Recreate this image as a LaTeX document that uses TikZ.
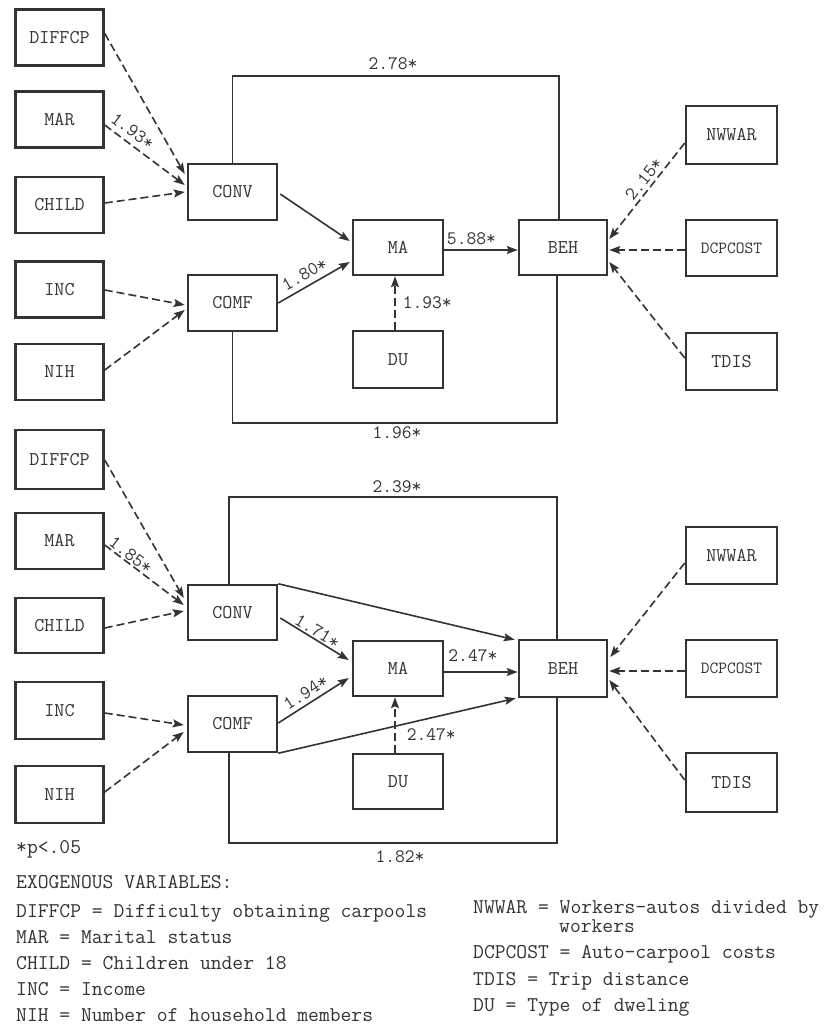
\documentclass[tikz,border=0pt]{standalone}
\usetikzlibrary{arrows.meta,calc}
\definecolor{ink}{gray}{0.2}
\begin{document}
\begin{tikzpicture}[x=1pt,y=-1pt,
  box/.style={draw=ink, line width=2.5pt, minimum width=88pt, minimum height=56pt, inner sep=0pt, text=ink, font=\fontsize{19.5}{22}\selectfont\ttfamily},
  conn/.style={draw=ink, line width=1.6pt, -{Stealth[length=11pt,width=8pt,inset=2pt]}},
  dconn/.style={conn, dash pattern=on 8pt off 4pt},
  loopline/.style={draw=ink, line width=1.6pt},
  lab/.style={font=\fontsize{19}{22}\selectfont\ttfamily, inner sep=0pt, text=ink},
  legend/.style={font=\fontsize{21}{24}\selectfont\ttfamily, anchor=base west, inner sep=0pt, text=ink}]
\useasboundingbox (0,0) rectangle (834,1026);
\fill[white] (0,0) rectangle (834,1026);

% ---------- top diagram ----------
\node[box] (tdif) at (59.5,37.5) {DIFFCP};
\node[box] (tmar) at (59.5,119.5) {MAR};
\node[box] (tchi) at (59.5,205) {CHILD};
\node[box] (tinc) at (59.5,289.5) {INC};
\node[box] (tnih) at (59.5,372) {NIH};
\node[box, minimum width=89pt] (tconv) at (232.5,192) {CONV};
\node[box, minimum width=89pt] (tcomf) at (232.5,303) {COMF};
\node[box, minimum width=90pt, minimum height=55pt] (tma) at (398,247.5) {MA};
\node[box, minimum width=90pt, minimum height=57pt] (tdu) at (398,359.5) {DU};
\node[box, minimum height=55pt] (tbeh) at (563,247.5) {BEH};
\node[box, minimum width=91pt, minimum height=58pt] (tnw) at (731.5,135) {NWWAR};
\node[box, minimum width=91pt, font=\fontsize{17}{20}\selectfont\ttfamily] (tdc) at (731.5,248) {DCPCOST};
\node[box, minimum width=91pt, minimum height=57pt] (ttd) at (731.5,361.5) {TDIS};

\draw[dconn] ($(tdif.east)+(0,-4)$) -- ($(tconv.west)+(-2,-18)$);
\draw[dconn] ($(tmar.east)+(0,5.5)$) -- node[lab, sloped, above=5pt, pos=0.26] {1.93*} ($(tconv.west)+(-2,-7)$);
\draw[dconn] ($(tchi.east)+(0,-2)$) -- ($(tconv.west)+(-2,0)$);
\draw[dconn] ($(tinc.east)+(0,0.5)$) -- ($(tcomf.west)+(-2,2)$);
\draw[dconn] ($(tnih.east)+(0,-2)$) -- ($(tcomf.west)+(-2,7)$);
\draw[conn] ($(tconv.east)+(2,2)$) -- ($(tma.west)+(-2,-6.5)$);
\draw[conn] (tcomf.east) -- node[lab, sloped, above=5pt, pos=0.45] {1.80*} ($(tma.west)+(-2,14.5)$);
\draw[dconn] ($(tdu.north)+(-3,0)$) -- node[lab, right=7pt, pos=0.5] {1.93*} ($(tma.south)+(-3,0)$);
\draw[conn] ($(tma.east)+(0,2.5)$) -- node[lab, above=4pt, pos=0.37] {5.88*} ($(tbeh.west)+(0,2.5)$);
\draw[dconn] ($(tnw.west)+(0,8)$) -- node[lab, sloped, above=3pt, pos=0.44] {2.15*} ($(tbeh.east)+(1,-8.5)$);
\draw[dconn] ($(tdc.west)+(0,2)$) -- ($(tbeh.east)+(1,2.5)$);
\draw[dconn] ($(ttd.west)+(0,-3.5)$) -- ($(tbeh.east)+(1,14.5)$);

\draw[loopline] (tconv.north) -- ++(0,-87) -| ($(tbeh.north)+(-4,0)$);
\draw[loopline] (tcomf.south) -- ++(0,91) -| ($(tbeh.south)+(-6,0)$);
\node[lab] (t278) at (393,64) {2.78*};
\node[lab] (t196) at (397,433) {1.96*};

% ---------- bottom diagram ----------
\node[box, minimum height=59pt] (bdif) at (59.5,459.5) {DIFFCP};
\node[box] (bmar) at (59.5,541) {MAR};
\node[box, minimum height=55pt] (bchi) at (59.5,625.5) {CHILD};
\node[box, minimum height=57pt] (binc) at (59.5,710.5) {INC};
\node[box, minimum height=57pt] (bnih) at (59.5,794.5) {NIH};
\node[box, minimum width=89pt, minimum height=55pt] (bconv) at (232.5,612.5) {CONV};
\node[box, minimum width=89pt] (bcomf) at (232.5,724) {COMF};
\node[box, minimum width=90pt, minimum height=55pt] (bma) at (398,668.5) {MA};
\node[box, minimum width=90pt, minimum height=55pt] (bdu) at (398,781.5) {DU};
\node[box, minimum height=57pt] (bbeh) at (563,668.5) {BEH};
\node[box, minimum width=91pt, minimum height=57pt] (bnw) at (731.5,555.5) {NWWAR};
\node[box, minimum width=91pt, minimum height=57pt, font=\fontsize{17}{20}\selectfont\ttfamily] (bdc) at (731.5,668.5) {DCPCOST};
\node[box, minimum width=91pt, minimum height=59pt] (btd) at (731.5,782.5) {TDIS};

\draw[dconn] ($(bdif.east)+(0,0.5)$) -- ($(bconv.west)+(-3,-14.5)$);
\draw[dconn] ($(bmar.east)+(0,4)$) -- node[lab, sloped, above=1pt, pos=0.27] {1.85*} ($(bconv.west)+(-3,-7.5)$);
\draw[dconn] ($(bchi.east)+(0,2.5)$) -- ($(bconv.west)+(-3,-1.5)$);
\draw[dconn] ($(binc.east)+(0,2.5)$) -- ($(bcomf.west)+(-3,1)$);
\draw[dconn] ($(bnih.east)+(0,-2.5)$) -- ($(bcomf.west)+(-3,8)$);
\draw[conn] ($(bconv.east)+(2,5.5)$) -- node[lab, sloped, above=1pt, pos=0.48] {1.71*} ($(bma.west)+(-3,-8.5)$);
\draw[conn] ($(bcomf.east)+(0,-1)$) -- node[lab, sloped, above=4pt, pos=0.47] {1.94*} ($(bma.west)+(-3,9.5)$);
\draw[conn] (bconv.north east) -- ($(bbeh.north west)+(-3,1)$);
\draw[conn] (bcomf.south east) -- ($(bbeh.south west)+(-2,0)$);
\draw[dconn] ($(bdu.north)+(-3,0)$) -- node[lab, right=11pt, pos=0.33] {2.47*} ($(bma.south)+(-3,0)$);
\draw[conn] ($(bma.east)+(0,3.5)$) -- node[lab, above=9pt, pos=0.39] {2.47*} ($(bbeh.west)+(0,3.5)$);
\draw[dconn] ($(bnw.west)+(0,7.5)$) -- ($(bbeh.east)+(2,-11.5)$);
\draw[dconn] ($(bdc.west)+(0,2.5)$) -- ($(bbeh.east)+(1,2.5)$);
\draw[dconn] ($(btd.west)+(0,-2.5)$) -- ($(bbeh.east)+(1,11.5)$);

\draw[loopline] ($(bconv.north)+(-3.5,0)$) -- ++(0,-87) -| ($(bbeh.north)+(-6,0)$);
\draw[loopline] ($(bcomf.south)+(-3.5,0)$) -- ++(0,90) -| ($(bbeh.south)+(-6,0)$);
\node[lab] (b239) at (397,487) {2.39*};
\node[lab] (b182) at (400,857) {1.82*};

% ---------- legend ----------
\node[legend] (lp) at (16,853) {*p<.05};
\node[legend] (lexo) at (16,888) {EXOGENOUS VARIABLES:};
\node[legend] (l1) at (16,917) {DIFFCP = Difficulty obtaining carpools};
\node[legend] (l2) at (16,943) {MAR = Marital status};
\node[legend] (l3) at (16,969) {CHILD = Children under 18};
\node[legend] (l4) at (16,995.5) {INC = Income};
\node[legend] (l5) at (16,1021) {NIH = Number of household members};
\node[legend] (r1) at (473,913) {NWWAR = Workers-autos divided by};
\node[legend] (r1b) at (559,932) {workers};
\node[legend] (r2) at (473,958) {DCPCOST = Auto-carpool costs};
\node[legend] (r3) at (473,985) {TDIS = Trip distance};
\node[legend] (r4) at (473,1011) {DU = Type of dweling};
\end{tikzpicture}
\end{document}
